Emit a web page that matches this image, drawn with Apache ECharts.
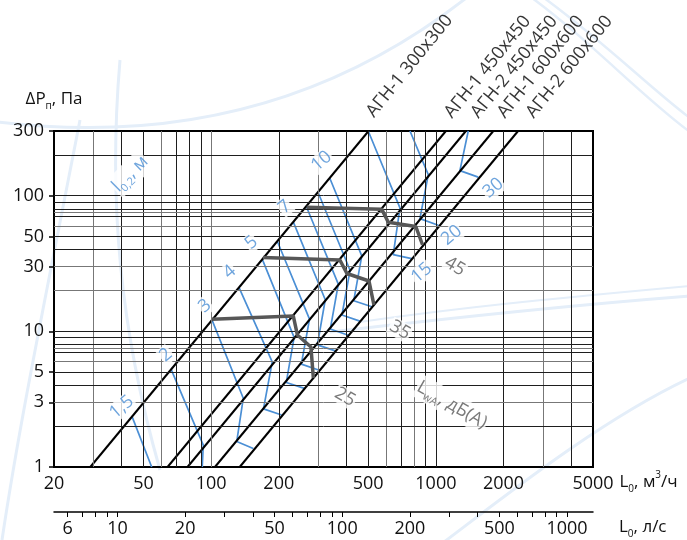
<!DOCTYPE html>
<html><head><meta charset="utf-8">
<script src="https://cdn.jsdelivr.net/npm/echarts@6/dist/echarts.min.js"></script>
<style>html,body{margin:0;padding:0;background:#fff}#c{width:687px;height:540px}</style>
</head><body><div id="c"></div>
<script>
// ---------- data ----------
const xTickLabels = [20, 50, 100, 200, 500, 1000, 2000, 5000];          // L0, m3/h
const yTickLabels = [1, 3, 5, 10, 30, 50, 100, 300];                     // dP, Pa
const lsTickLabels = [6, 10, 20, 50, 100, 200, 500, 1000];               // L0, l/s
const lsTicks = [6, 7, 8, 9, 10, 20, 30, 40, 50, 60, 70, 80, 90, 100, 200, 300, 400, 500, 600, 700, 800, 900, 1000];
const vGridDark = [40, 50, 70, 80, 90, 200, 400, 500, 700, 900, 1000, 2000, 4000];
const vGridGray = [30, 60, 100, 300, 600, 800, 3000];
const hGridDark = [2, 4, 5, 7, 8, 9, 10, 40, 50, 70, 80, 90, 100, 200];
const hGridGray = [3, 6, 7.5, 20, 30, 60, 75];

const unitNames = ['АГН-1 300х300', 'АГН-1 450х450', 'АГН-2 450х450', 'АГН-1 600х600', 'АГН-2 600х600'];
const unitFlowAt1Pa = [29, 64, 78.5, 104, 134];
const unitFlowAt300Pa = [502, 1108, 1360, 1801, 2321];
const unitLabelAt = [[509, 394], [1132, 388], [1487, 388], [1947, 388], [2613, 388]];

// throw l0,2 (m) contours: [L0 m3/h, dP Pa]
const throwNames = ['1,5', '2', '3', '4', '5', '6', '7', '8', '9', '10', '15', '20', '30'];
const throwLines = [
  [[44.5, 2.35], [54.4, 1]],
  [[66.4, 5.25], [92.3, 1.45], [91.3, 1]],
  [[101, 12.1], [139, 3.21], [130, 1.54], [154, 1.37]],
  [[133, 21.1], [187, 5.95], [171, 2.68], [206, 2.42]],
  [[169, 33.9], [234, 9.02], [216, 4.2], [260, 3.8]],
  [[197, 46.2], [274, 12.3], [252, 5.73], [303, 5.17]],
  [[232, 64.1], [322, 17.1], [297, 7.95], [357, 7.18]],
  [[265, 83.7], [368, 22.3], [339, 10.4], [408, 9.37]],
  [[299, 106], [415, 28.2], [382, 13.2], [459, 11.9]],
  [[337, 135], [468, 36], [431, 16.8], [519, 15.2]],
  [[500, 300], [692, 81.3], [646, 36.8], [780, 34.4]],
  [[767, 300], [925, 143], [849, 67.8], [1025, 60.6]],
  [[1393, 300], [1279, 153], [1543, 137]]
];
const throwLabelText = ['1,5', '2', '3', '4', '5', '7', '10', '15', '20', '30'];
const throwLabelAt = [[40, 2.76], [63, 6.7], [93.9, 15.4], [121, 27.4], [151, 44.9], [213, 82.7], [310, 180], [864, 27], [1175, 51.1], [1800, 114]];
const throwTitleAt = [43.6, 145];

// sound power LwA dB(A) lines
const noiseNames = ['25', '35', '45'];
const noiseLines = [
  [[101, 12.3], [232, 13], [242, 9.41], [278, 7.67], [285, 4.53]],
  [[170, 35], [374, 33.6], [402, 26.7], [504, 23.5], [530, 15.7]],
  [[266, 82.3], [574, 79.6], [614, 63.8], [814, 59.3], [872, 43.5]]
];
const noiseLabelAt = [[394, 3.28], [692, 10.24], [1215, 30.1]];
const noiseTitleAt = [1179, 2.87];

// ---------- chart ----------
const FONT = 'Open Sans';
const BLUE = '#4b8fd5';
const GRAY = '#575757';
const DECO = '#e4eef9';
const chart = echarts.init(document.getElementById('c'));

const gridMarks = []
  .concat(vGridDark.map(v => ({ xAxis: v, lineStyle: { color: '#1e1e1e' } })))
  .concat(vGridGray.map(v => ({ xAxis: v, lineStyle: { color: '#777' } })))
  .concat(hGridDark.map(v => ({ yAxis: v, lineStyle: { color: '#1e1e1e' } })))
  .concat(hGridGray.map(v => ({ yAxis: v, lineStyle: { color: '#777' } })));

const series = [];
series.push({
  type: 'line', data: [], silent: true, z: 1,
  markLine: { silent: true, symbol: ['none', 'none'], label: { show: false }, animation: false,
    lineStyle: { type: 'solid', width: 1 }, data: gridMarks }
});
throwLines.forEach((d, i) => series.push({
  type: 'line', name: 'l' + throwNames[i], data: d, showSymbol: false, symbol: 'none', z: 3,
  lineStyle: { color: BLUE, width: 1.7 }, animation: false, silent: true
}));
unitNames.forEach((n, i) => series.push({
  type: 'line', name: n, data: [[unitFlowAt1Pa[i], 1], [unitFlowAt300Pa[i], 300]], symbol: 'none', z: 4,
  lineStyle: { color: '#000', width: 2 }, animation: false, silent: true
}));
noiseLines.forEach((d, i) => series.push({
  type: 'line', name: 'Lw' + noiseNames[i], data: d, symbol: 'none', z: 5,
  lineStyle: { color: GRAY, width: 3.5 }, animation: false, silent: true
}));

const labelBase = { show: true, position: 'inside', fontFamily: FONT, fontSize: 18, backgroundColor: '#fff', padding: [0, 1] };
function labelSeries(items, z) {
  return { type: 'scatter', symbolSize: 0.1, itemStyle: { color: 'rgba(0,0,0,0)' }, clip: false, z: z,
    silent: true, animation: false, data: items };
}
series.push(labelSeries(throwLabelAt.map((p, i) => ({ value: p,
  label: Object.assign({}, labelBase, { formatter: throwLabelText[i], color: BLUE, rotate: 40 }) })), 10));
series.push(labelSeries([{ value: throwTitleAt, label: Object.assign({}, labelBase, {
  formatter: '{a|l}{s|0,2}{a|, м}', rotate: 45, color: BLUE,
  rich: { a: { fontFamily: FONT, fontSize: 18, color: BLUE, lineHeight: 24 },
          s: { fontFamily: FONT, fontSize: 11, color: BLUE, verticalAlign: 'bottom' } } }) }], 10));
series.push(labelSeries(noiseLabelAt.map((p, i) => ({ value: p,
  label: Object.assign({}, labelBase, { formatter: noiseNames[i], color: GRAY, rotate: -30 }) })), 10));
series.push(labelSeries([{ value: noiseTitleAt, label: Object.assign({}, labelBase, {
  formatter: '{a|L}{s|wA}{a|, дБ(А)}', rotate: -30, color: GRAY,
  rich: { a: { fontFamily: FONT, fontSize: 18, color: GRAY, lineHeight: 24 },
          s: { fontFamily: FONT, fontSize: 11, color: GRAY, verticalAlign: 'bottom' } } }) }], 10));
series.push(labelSeries(unitLabelAt.map((p, i) => ({ value: p,
  label: { show: true, position: 'inside', formatter: unitNames[i], fontFamily: FONT, fontSize: 18, color: '#000',
    rotate: 51, align: 'left', verticalAlign: 'middle' } })), 10));
series.push({ type: 'scatter', xAxisIndex: 1, yAxisIndex: 1, data: [], silent: true });

const nameRich = {
  a: { fontFamily: FONT, fontSize: 17, color: '#111', lineHeight: 24 },
  s: { fontFamily: FONT, fontSize: 10, color: '#111', verticalAlign: 'bottom' },
  p: { fontFamily: FONT, fontSize: 10, color: '#111', verticalAlign: 'top' }
};

function deco(x1, y1, cx1, cy1, cx2, cy2, x2, y2, w) {
  return { type: 'bezierCurve', z: -10, silent: true,
    shape: { x1: x1, y1: y1, cpx1: cx1, cpy1: cy1, cpx2: cx2, cpy2: cy2, x2: x2, y2: y2 },
    style: { stroke: DECO, lineWidth: w || 3, fill: null } };
}

chart.setOption({
  animation: false,
  backgroundColor: '#fff',
  graphic: { elements: [
    deco(-10, 121, 120, 138, 300, 130, 470, -5, 3),
    deco(528, -5, 590, 40, 640, 95, 690, 132, 2.5),
    deco(540, -5, 600, 38, 650, 88, 690, 118, 2.5),
    deco(330, 332, 450, 318, 560, 306, 690, 296, 3),
    deco(360, 322, 470, 306, 580, 296, 690, 286, 2),
    deco(440, 545, 500, 500, 600, 420, 690, 378, 3),
    deco(2, 540, 20, 420, 45, 300, 80, 120, 3),
    deco(120, 60, 108, 200, 120, 330, 160, 470, 3)
  ] },
  grid: [
    { left: 54, right: 94, top: 131, bottom: 73, show: true, borderColor: '#000', borderWidth: 2,
      backgroundColor: 'transparent', containLabel: false, outerBoundsMode: 'none' },
    { left: 54, right: 94, top: 511, height: 1, show: false, containLabel: false, outerBoundsMode: 'none' }
  ],
  xAxis: [{
    type: 'log', logBase: 10, min: 20, max: 5000, gridIndex: 0,
    axisLine: { show: false }, axisTick: { show: false }, splitLine: { show: false }, minorSplitLine: { show: false },
    axisLabel: { customValues: xTickLabels, fontFamily: FONT, fontSize: 18, color: '#111', margin: 8, formatter: v => String(v) },
    name: '{a|L}{s|0}{a|, м}{p|3}{a|/ч}', nameLocation: 'end', nameGap: 24,
    nameTextStyle: { align: 'left', verticalAlign: 'top', padding: [3, 0, 0, 0], rich: nameRich }
  }, {
    type: 'log', logBase: 10, min: 5.22, max: 1305, gridIndex: 1, position: 'bottom',
    axisLine: { show: true, lineStyle: { color: '#000', width: 1.5 } },
    axisTick: { show: true, customValues: lsTicks, length: 5, inside: false, lineStyle: { color: '#000', width: 1 } },
    splitLine: { show: false },
    axisLabel: { customValues: lsTickLabels, fontFamily: FONT, fontSize: 18, color: '#111', margin: 8, formatter: v => String(v) },
    name: '{a|L}{s|0}{a|, л/с}', nameLocation: 'end', nameGap: 26,
    nameTextStyle: { align: 'left', verticalAlign: 'top', padding: [3, 0, 0, 0], rich: nameRich }
  }],
  yAxis: [{
    type: 'log', logBase: 10, min: 1, max: 300, gridIndex: 0,
    axisLine: { show: false },
    axisTick: { show: true, customValues: yTickLabels, length: 5, inside: false, lineStyle: { color: '#000', width: 1.5 } },
    splitLine: { show: false },
    axisLabel: { customValues: yTickLabels, fontFamily: FONT, fontSize: 18, color: '#111', margin: 10, formatter: v => String(v) },
    name: '{a|ΔP}{s|п}{a|, Па}', nameLocation: 'end', nameGap: 20,
    nameTextStyle: { rich: nameRich }
  }, { type: 'value', gridIndex: 1, show: false, min: 0, max: 1 }],
  series: series
});
</script></body></html>
